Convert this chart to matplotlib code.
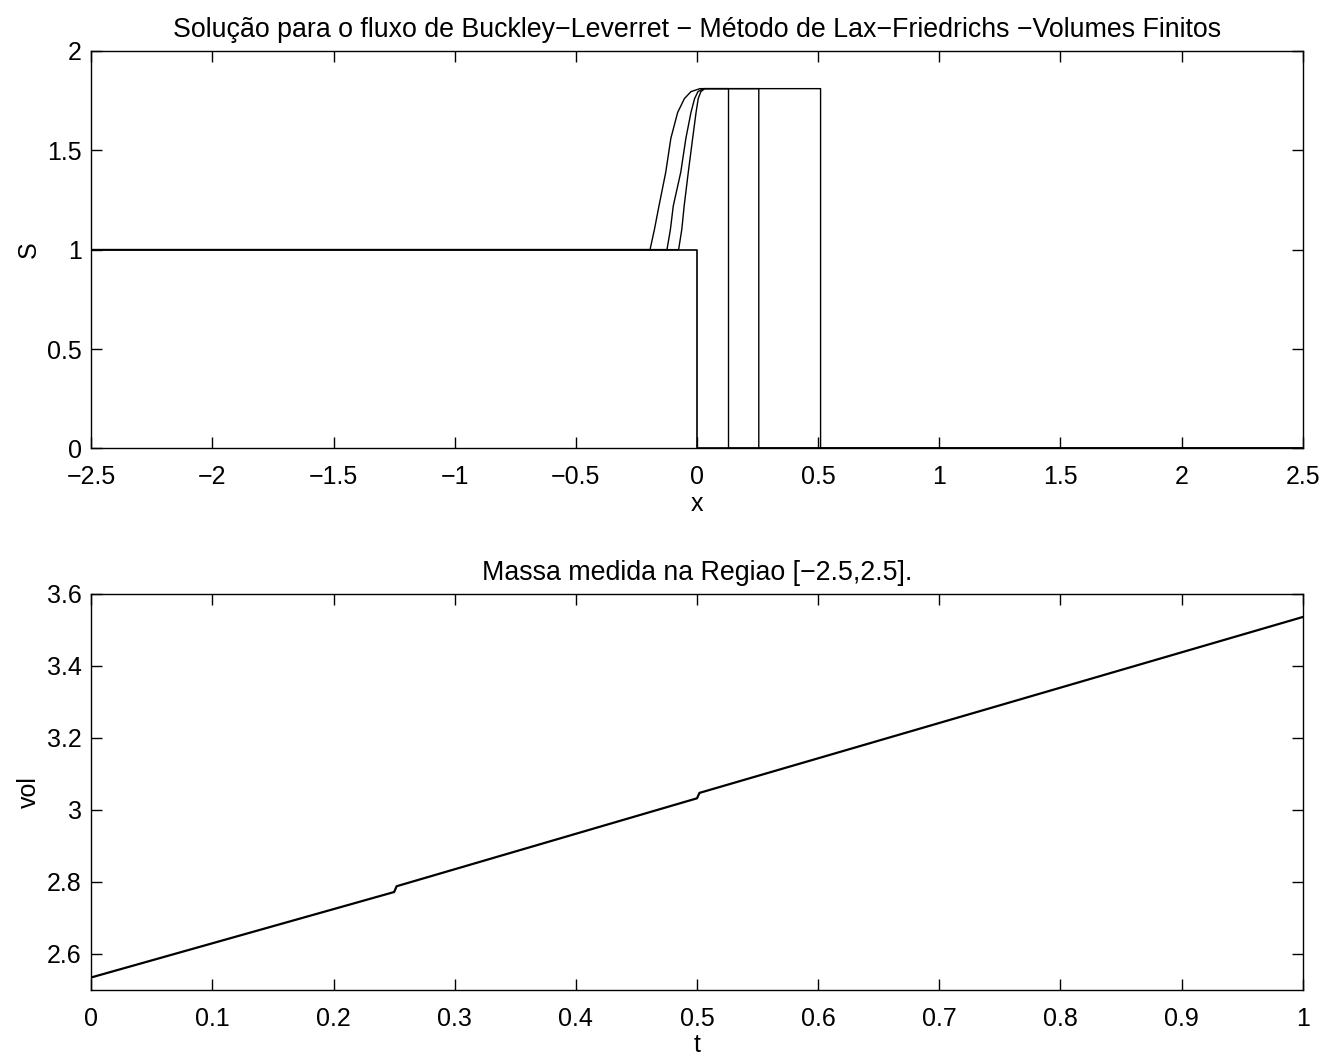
import matplotlib
matplotlib.use("Agg")
import matplotlib.pyplot as plt

plt.rcParams['font.family'] = ['Liberation Sans', 'DejaVu Sans']
plt.rcParams['font.size'] = 18

# condicao inicial
x0 = [-2.5, 0.0, 0.0, 2.5]
s0 = [1.0, 1.0, 0.0, 0.0]

# solucoes em t = 0.25, 0.5, 1.0
s_prof = [1.0, 1.0, 1.1, 1.22, 1.39, 1.56, 1.69, 1.76, 1.795, 1.81, 1.81, 0.0, 0.0]
x_t025 = [-2.5, -0.076, -0.063, -0.053, -0.036, -0.018, -0.004, 0.005, 0.016, 0.032, 0.13, 0.13, 2.5]
x_t050 = [-2.5, -0.124, -0.110, -0.098, -0.067, -0.046, -0.025, -0.010, 0.004, 0.026, 0.255, 0.255, 2.5]
x_t100 = [-2.5, -0.194, -0.176, -0.157, -0.129, -0.108, -0.080, -0.052, -0.025, 0.012, 0.51, 0.51, 2.5]

# massa medida
t_vol = [0.0, 0.25, 0.252, 0.5, 0.502, 1.0]
vol = [2.535, 2.772, 2.788, 3.032, 3.047, 3.535]

fig = plt.figure(figsize=(13.43, 10.6), dpi=100)
ax1 = fig.add_axes([0.068, 0.577, 0.902, 0.375])
ax2 = fig.add_axes([0.068, 0.066, 0.902, 0.374])

ax1.plot(x0, s0, color='black', lw=1.2)
for xs in (x_t025, x_t050, x_t100):
    ax1.plot(xs, s_prof, color='black', lw=1.0)
ax1.set_xlim(-2.5, 2.5)
ax1.set_ylim(0, 2)
ax1.set_xticks([-2.5, -2, -1.5, -1, -0.5, 0, 0.5, 1, 1.5, 2, 2.5])
ax1.set_xticklabels(['\u22122.5', '\u22122', '\u22121.5', '\u22121', '\u22120.5', '0', '0.5', '1', '1.5', '2', '2.5'])
ax1.set_yticks([0, 0.5, 1, 1.5, 2])
ax1.set_yticklabels(['0', '0.5', '1', '1.5', '2'])
ax1.set_xlabel('x', labelpad=2)
ax1.set_ylabel('S', labelpad=4)
ax1.set_title('Solução para o fluxo de Buckley\u2212Leverret \u2212 Método de Lax\u2212Friedrichs \u2212Volumes Finitos',
              fontsize=19.3, pad=10)

ax2.plot(t_vol, vol, color='black', lw=1.6)
ax2.set_xlim(0, 1)
ax2.set_ylim(2.5, 3.6)
ax2.set_xticks([0, 0.1, 0.2, 0.3, 0.4, 0.5, 0.6, 0.7, 0.8, 0.9, 1])
ax2.set_xticklabels(['0', '0.1', '0.2', '0.3', '0.4', '0.5', '0.6', '0.7', '0.8', '0.9', '1'])
ax2.set_yticks([2.6, 2.8, 3.0, 3.2, 3.4, 3.6])
ax2.set_yticklabels(['2.6', '2.8', '3', '3.2', '3.4', '3.6'])
ax2.set_xlabel('t', labelpad=2)
ax2.set_ylabel('vol', labelpad=4)
ax2.set_title('Massa medida na Regiao [\u22122.5,2.5].', fontsize=19.3, pad=10)

for ax in (ax1, ax2):
    ax.tick_params(direction='in', length=8, width=1, top=True, right=True)
    ax.tick_params(axis='x', pad=12)
    ax.tick_params(axis='y', pad=7)
    for sp in ax.spines.values():
        sp.set_linewidth(1.0)

fig.savefig('out.png', dpi=100)
